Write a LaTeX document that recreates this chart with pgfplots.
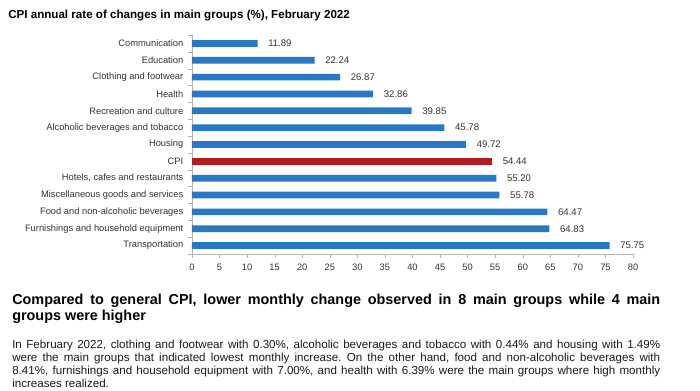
\documentclass[border=0pt]{standalone}
\usepackage{pgfplots}
\pgfplotsset{compat=1.18}
\usepackage{fontspec}
\setmainfont{Liberation Sans}
\definecolor{barblue}{RGB}{40,120,195}
\definecolor{barred}{RGB}{178,28,28}
\definecolor{txt}{RGB}{50,50,50}
\frenchspacing
\begin{document}
\begin{tikzpicture}
\useasboundingbox (0,0) rectangle (525pt,-293.25pt);
\begin{axis}[
  at={(144pt,-190.5pt)}, anchor=south west,
  scale only axis, width=330.75pt, height=164.25pt,
  xbar, bar width=5pt, bar shift=0pt,
  xmin=0, xmax=80, ymin=0.5, ymax=13.5, y dir=reverse,
  axis lines*=left,
  axis line style={draw=gray!60, -},
  xtick={0,5,...,80},
  ytick={1,...,13},
  yticklabels={Communication,Education,Clothing and footwear,Health,Recreation and culture,Alcoholic beverages and tobacco,Housing,CPI,{Hotels, cafes and restaurants},Miscellaneous goods and services,Food and non-alcoholic beverages,Furnishings and household equipment,Transportation},
  minor ytick={0.5,1.5,...,13.5},
  tick align=outside,
  major tick length=3pt, minor tick length=3pt,
  x tick style={draw=gray!60},
  y tick style={draw=none},
  minor y tick style={draw=gray!60},
  tick label style={font=\fontsize{7}{8}\selectfont, text=txt},
  /pgf/number format/assume math mode=true,
  xticklabel style={yshift=-1pt},
  yticklabel style={xshift=0pt},
  nodes near coords,
  nodes near coords style={font=\fontsize{7.2}{8}\selectfont, text=txt, anchor=west, xshift=4.5pt,
    /pgf/number format/.cd, fixed, fixed zerofill, precision=2, assume math mode=true},
  every axis plot/.append style={draw=none},
]
\addplot[fill=barblue] coordinates {
(11.89,1) (22.24,2) (26.87,3) (32.86,4) (39.85,5) (45.78,6) (49.72,7)
(55.20,9) (55.78,10) (64.47,11) (64.83,12) (75.75,13)};
\addplot[fill=barred] coordinates {(54.44,8)};
\end{axis}
\begin{scope}[x=0.75pt,y=-0.75pt]
\node[anchor=west, inner sep=0, font=\fontsize{8.7}{10}\selectfont\bfseries] at (8,16) {CPI annual rate of changes in main groups (\%), February 2022};
\node[anchor=north west, inner sep=0, text width=486pt, align=justify, font=\fontsize{10.8}{12}\selectfont\bfseries] at (12,294)
{Compared to general CPI, lower monthly change observed in 8 main groups while 4 main\linebreak groups were higher};
\node[anchor=north west, inner sep=0, text width=486pt, align=justify, font=\fontsize{8.7}{9.75}\selectfont, text=black!90] at (12,340)
{In February 2022, clothing and footwear with 0.30\%, alcoholic beverages and tobacco with 0.44\% and housing with 1.49\%\linebreak were the main groups that indicated lowest monthly increase. On the other hand, food and non-alcoholic beverages with\linebreak 8.41\%, furnishings and household equipment with 7.00\%, and health with 6.39\% were the main groups where high monthly\linebreak increases realized.};
\end{scope}
\end{tikzpicture}
\end{document}
